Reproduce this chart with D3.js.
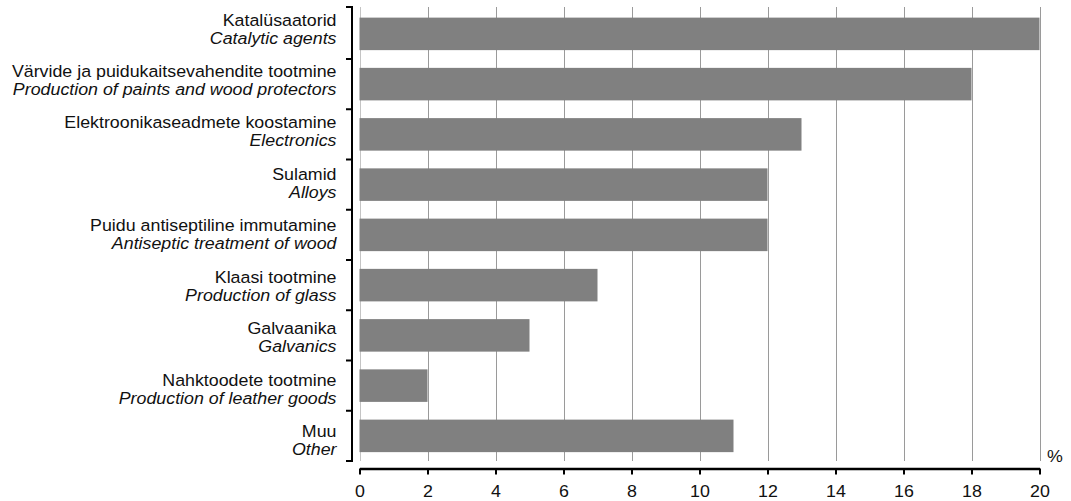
<!DOCTYPE html>
<html>
<head>
<meta charset="utf-8">
<script src="https://cdn.jsdelivr.net/npm/d3@7"></script>
<style>
  html, body { margin: 0; padding: 0; background: #fff; }
  svg { display: block; }
  text { font-family: "Liberation Sans", Arial, Helvetica, sans-serif; fill: #111; }
</style>
</head>
<body>
<svg id="chart" width="1071" height="501"></svg>
<script>
const categoriesEt = [
  "Katalüsaatorid",
  "Värvide ja puidukaitsevahendite tootmine",
  "Elektroonikaseadmete koostamine",
  "Sulamid",
  "Puidu antiseptiline immutamine",
  "Klaasi tootmine",
  "Galvaanika",
  "Nahktoodete tootmine",
  "Muu"
];
const categoriesEn = [
  "Catalytic agents",
  "Production of paints and wood protectors",
  "Electronics",
  "Alloys",
  "Antiseptic treatment of wood",
  "Production of glass",
  "Galvanics",
  "Production of leather goods",
  "Other"
];
const values = [20, 18, 13, 12, 12, 7, 5, 2, 11];
const xTicks = [0, 2, 4, 6, 8, 10, 12, 14, 16, 18, 20];
const unitLabel = "%";

const svg = d3.select("#chart");
const FS = 16.5, SX = 1.08;

const idx = categoriesEt.map((d, i) => i);
const x = d3.scaleLinear().domain([0, 20]).range([359.5, 1039.5]);
const y = d3.scaleBand().domain(idx).range([8.75, 461]).paddingInner(0.353).paddingOuter(0.1765);
const labelY = d3.scalePoint().domain(idx).range([25.5, 437]);

const gridTop = 7, gridBottom = 461;

// gridlines
svg.append("g")
  .selectAll("line")
  .data(xTicks)
  .join("line")
  .attr("x1", d => Math.round(x(d)) + 0.5)
  .attr("x2", d => Math.round(x(d)) + 0.5)
  .attr("y1", gridTop)
  .attr("y2", gridBottom)
  .attr("stroke", d => d === 0 ? "#c4c4c4" : "#9a9a9a")
  .attr("stroke-width", 1);

// bars
svg.append("g")
  .selectAll("rect")
  .data(idx)
  .join("rect")
  .attr("x", x(0))
  .attr("y", i => y(i))
  .attr("width", i => x(values[i]) - x(0))
  .attr("height", y.bandwidth())
  .attr("fill", "#808080");

// y axis bracket
const step = y.step();
const boundaries = idx.map(i => y(i) - step * y.paddingInner() / 2);
boundaries[0] = gridTop;
boundaries.push(gridBottom);
const yAxisX = 352;
const ya = svg.append("g");
ya.append("line")
  .attr("x1", yAxisX).attr("x2", yAxisX)
  .attr("y1", gridTop).attr("y2", gridBottom)
  .attr("stroke", "#000").attr("stroke-width", 2);
ya.selectAll("line.tk")
  .data(boundaries)
  .join("line")
  .attr("class", "tk")
  .attr("x1", yAxisX - 6).attr("x2", yAxisX + 1)
  .attr("y1", d => d).attr("y2", d => d)
  .attr("stroke", "#000").attr("stroke-width", 2);

// category labels
const lab = svg.append("g");
idx.forEach(i => {
  const b = labelY(i);
  lab.append("text")
    .attr("transform", `translate(336.5,${b}) scale(${SX},1)`)
    .attr("text-anchor", "end")
    .attr("font-size", FS)
    .text(categoriesEt[i]);
  lab.append("text")
    .attr("transform", `translate(336.5,${b + 18}) scale(${SX},1)`)
    .attr("text-anchor", "end")
    .attr("font-size", FS)
    .attr("font-style", "italic")
    .text(categoriesEn[i]);
});

// x axis
const xAxisY = 468.5;
const xa = svg.append("g").attr("transform", `translate(0,${xAxisY})`)
  .call(d3.axisBottom(x).tickValues(xTicks).tickSize(6).tickSizeOuter(0).tickFormat(d3.format("d")));
xa.select(".domain").attr("stroke", "#000").attr("stroke-width", 2.5);
xa.selectAll(".tick line").attr("stroke", "#000").attr("stroke-width", 2);
xa.selectAll(".tick text")
  .attr("font-size", FS)
  .attr("fill", "#111")
  .attr("y", 0)
  .attr("dy", 0)
  .attr("transform", `translate(0,28.5) scale(${SX},1)`)
  .style("font-family", '"Liberation Sans", Arial, sans-serif');

// unit label
svg.append("text")
  .attr("transform", `translate(1047,462) scale(${SX},1)`)
  .attr("font-size", FS)
  .text(unitLabel);
</script>
</body>
</html>
